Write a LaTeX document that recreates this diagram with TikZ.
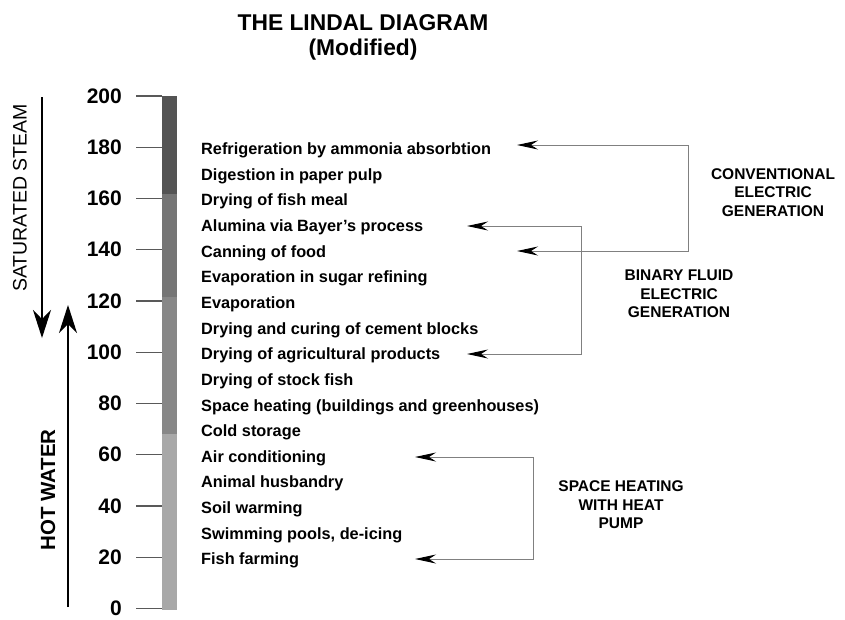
\documentclass[tikz,border=0pt]{standalone}
\usepackage{fontspec}
\setmainfont{Liberation Sans}
\usetikzlibrary{arrows.meta}
\begin{document}
\begin{tikzpicture}[x=1pt,y=-1pt,
 item/.style={anchor=base west, inner sep=0pt, font=\bfseries\fontsize{16.3}{18}\selectfont},
 num/.style={anchor=east, inner sep=0pt, font=\bfseries\fontsize{21}{24}\selectfont},
 lab/.style={align=center, inner sep=0pt, font=\bfseries\fontsize{15.5}{18.5}\selectfont},
 ttl/.style={inner sep=0pt, font=\bfseries\fontsize{22.8}{24}\selectfont},
 tickline/.style={draw=black!65, line width=1.1pt},
 conn/.style={draw=black!50, line width=1pt, {Stealth[length=21pt,width=9pt,inset=7pt,black]}-{Stealth[length=21pt,width=9pt,inset=7pt,black]}},
 bigarrow/.style={draw=black, line width=1.3pt, -{Stealth[length=28pt,width=18pt,inset=9pt]}},
]
\useasboundingbox (0,0) rectangle (845,619);
\fill[white] (0,0) rectangle (845,619);

% title
\node[ttl] (title) at (363,23) {THE LINDAL DIAGRAM};
\node[ttl] (subtitle) at (363,50) {(Modified)};

% bar
\fill[black!67] (162,96) rectangle (177,194);
\fill[black!54] (162,194) rectangle (177,297);
\fill[black!47] (162,297) rectangle (177,434);
\fill[black!34] (162,434) rectangle (177,610);

% ticks and numbers
\foreach \t in {0,20,...,200}{
  \pgfmathsetmacro{\yy}{608.5-2.5625*\t}
  \draw[tickline] (136,\yy) -- (162,\yy);
  \node[num] (n\t) at (122,\yy) {\t};
}

% left arrows and labels
\coordinate (ss1) at (42,97);
\coordinate (ss2) at (42,338);
\draw[bigarrow] (ss1) -- (ss2);
\coordinate (hw1) at (68,607);
\coordinate (hw2) at (68,305);
\draw[bigarrow] (hw1) -- (hw2);
\node[rotate=90, inner sep=0pt, font=\fontsize{19.5}{21}\selectfont] (sat) at (20,198) {SATURATED STEAM};
\node[rotate=90, inner sep=0pt, font=\bfseries\fontsize{20.5}{22}\selectfont] (hot) at (48,490) {HOT WATER};

% items
\foreach \i/\txt in {1/Refrigeration by ammonia absorbtion,
 2/Digestion in paper pulp,
 3/Drying of fish meal,
 4/Alumina via Bayer's process,
 5/Canning of food,
 6/Evaporation in sugar refining,
 7/Evaporation,
 8/Drying and curing of cement blocks,
 9/Drying of agricultural products,
 10/Drying of stock fish,
 11/Space heating (buildings and greenhouses),
 12/Cold storage,
 13/Air conditioning,
 14/Animal husbandry,
 15/Soil warming,
 16/{Swimming pools, de-icing},
 17/Fish farming}{
  \pgfmathsetmacro{\yy}{154.5+25.65*(\i-1)}
  \node[item] (it\i) at (201,\yy) {\txt};
}

% connectors
\coordinate (a1) at (517,145);
\coordinate (a2) at (517,251);
\coordinate (ax) at (688,0);
\draw[conn] (a1) -- (a1 -| ax) |- (a2);
\coordinate (b1) at (467,226);
\coordinate (b2) at (467,354);
\coordinate (bx) at (581,0);
\draw[conn] (b1) -- (b1 -| bx) |- (b2);
\coordinate (h1) at (415,457);
\coordinate (h2) at (415,559);
\coordinate (hx) at (533,0);
\draw[conn] (h1) -- (h1 -| hx) |- (h2);

% labels
\node[lab] (conv) at (773,192.5) {CONVENTIONAL\\ELECTRIC\\GENERATION};
\node[lab] (bin) at (679,294) {BINARY FLUID\\ELECTRIC\\GENERATION};
\node[lab] (heat) at (621,505) {SPACE HEATING\\WITH HEAT\\PUMP};
\end{tikzpicture}
\end{document}
